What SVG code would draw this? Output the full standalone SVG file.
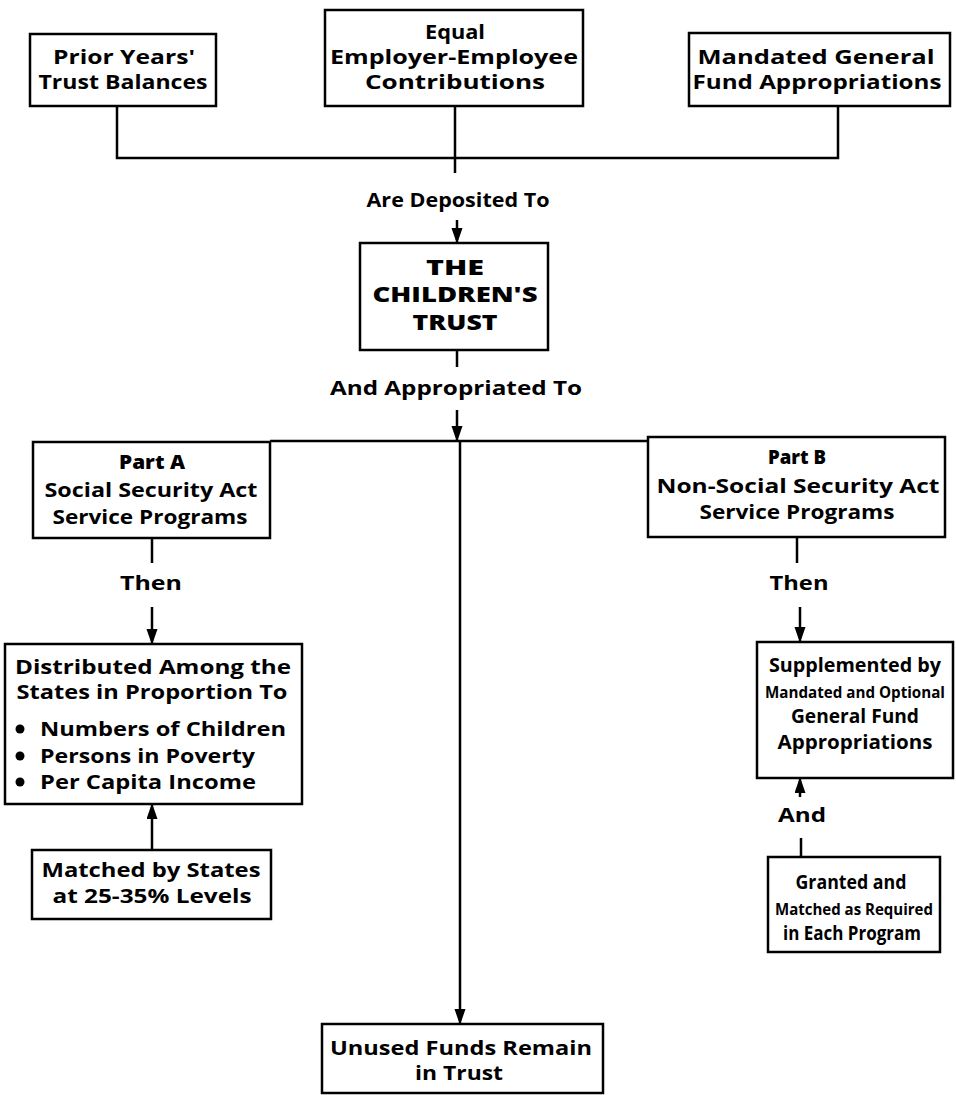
<svg xmlns="http://www.w3.org/2000/svg" width="956" height="1095" viewBox="0 0 956 1095">
<defs>
<marker id="ah" markerUnits="userSpaceOnUse" markerWidth="12" markerHeight="18" refX="15" refY="5.5" orient="auto">
<path d="M0,0 L16,5.5 L0,11 Z" fill="#000"/>
</marker>
<style>
rect{fill:#fff;stroke:#000;stroke-width:2.5}
.c line,.c path{stroke:#000;stroke-width:2.5;fill:none}
text{font-family:"Open Sans","Liberation Sans",sans-serif;font-weight:700;font-size:20px;fill:#000;text-anchor:middle}
.big{font-size:21px;font-weight:800}
.t{font-size:20px;font-weight:800}
.n{font-size:16.5px}
.m{font-size:15.5px}
.l{text-anchor:start}
</style>
</defs>
<rect x="0" y="0" width="956" height="1095" style="fill:#fff;stroke:none"/>
<g class="c" id="connectors">
<path d="M117,106 V158 H838 V106"/>
<line x1="455" y1="106" x2="455" y2="173"/>
<line x1="457" y1="220" x2="457" y2="243" marker-end="url(#ah)"/>
<line x1="457" y1="350" x2="457" y2="367"/>
<line x1="457" y1="410" x2="457" y2="441" marker-end="url(#ah)"/>
<line x1="270" y1="441" x2="648" y2="441"/>
<line x1="460" y1="441" x2="460" y2="1024" marker-end="url(#ah)"/>
<line x1="152" y1="538" x2="152" y2="563"/>
<line x1="152" y1="607" x2="152" y2="644" marker-end="url(#ah)"/>
<line x1="152" y1="850" x2="152" y2="804" marker-end="url(#ah)"/>
<line x1="797" y1="537" x2="797" y2="563"/>
<line x1="800" y1="607" x2="800" y2="642" marker-end="url(#ah)"/>
<line x1="801" y1="857" x2="801" y2="838"/>
<line x1="800" y1="797" x2="800" y2="778" marker-end="url(#ah)"/>
</g>
<g id="prior"><rect x="30" y="34" width="186" height="72"/>
<text x="124" y="64" textLength="142" lengthAdjust="spacingAndGlyphs">Prior Years'</text>
<text x="123" y="89" textLength="169" lengthAdjust="spacingAndGlyphs">Trust Balances</text></g>
<g id="equal"><rect x="325" y="10" width="258" height="96"/>
<text x="455" y="39" textLength="60" lengthAdjust="spacingAndGlyphs">Equal</text>
<text x="454" y="64" textLength="248" lengthAdjust="spacingAndGlyphs">Employer-Employee</text>
<text x="455" y="89" textLength="180" lengthAdjust="spacingAndGlyphs">Contributions</text></g>
<g id="mandated"><rect x="689" y="33" width="261" height="73"/>
<text x="816" y="64" textLength="237" lengthAdjust="spacingAndGlyphs">Mandated General</text>
<text x="817" y="89" textLength="249" lengthAdjust="spacingAndGlyphs">Fund Appropriations</text></g>
<g id="lbl-deposited"><text x="458" y="207" textLength="183" lengthAdjust="spacingAndGlyphs">Are Deposited To</text></g>
<g id="trust"><rect x="360" y="243" width="188" height="107"/>
<text class="big" x="455" y="275" textLength="58" lengthAdjust="spacingAndGlyphs">THE</text>
<text class="big" x="455" y="302" textLength="165" lengthAdjust="spacingAndGlyphs">CHILDREN'S</text>
<text class="big" x="455" y="330" textLength="85" lengthAdjust="spacingAndGlyphs">TRUST</text></g>
<g id="lbl-appropriated"><text x="456" y="395" textLength="252" lengthAdjust="spacingAndGlyphs">And Appropriated To</text></g>
<g id="partA"><rect x="33" y="442" width="237" height="96"/>
<text class="t" x="152" y="469" textLength="66" lengthAdjust="spacingAndGlyphs">Part A</text>
<text x="151" y="497" textLength="213" lengthAdjust="spacingAndGlyphs">Social Security Act</text>
<text x="150" y="524" textLength="195" lengthAdjust="spacingAndGlyphs">Service Programs</text></g>
<g id="lbl-thenA"><text x="151" y="590" textLength="62" lengthAdjust="spacingAndGlyphs">Then</text></g>
<g id="distributed"><rect x="5" y="644" width="297" height="160"/>
<text x="153" y="674" textLength="276" lengthAdjust="spacingAndGlyphs">Distributed Among the</text>
<text x="152" y="699" textLength="271" lengthAdjust="spacingAndGlyphs">States in Proportion To</text>
<circle cx="20" cy="729" r="4.5"/><circle cx="20" cy="756" r="4.5"/><circle cx="20" cy="782" r="4.5"/>
<text class="l" x="40" y="736" textLength="246" lengthAdjust="spacingAndGlyphs">Numbers of Children</text>
<text class="l" x="40" y="763" textLength="215" lengthAdjust="spacingAndGlyphs">Persons in Poverty</text>
<text class="l" x="40" y="789" textLength="216" lengthAdjust="spacingAndGlyphs">Per Capita Income</text></g>
<g id="matched"><rect x="32" y="850" width="239" height="69"/>
<text x="151" y="877" textLength="219" lengthAdjust="spacingAndGlyphs">Matched by States</text>
<text x="152" y="903" textLength="199" lengthAdjust="spacingAndGlyphs">at 25-35% Levels</text></g>
<g id="partB"><rect x="648" y="437" width="297" height="100"/>
<text class="t" x="797" y="464" textLength="58" lengthAdjust="spacingAndGlyphs">Part B</text>
<text x="798" y="493" textLength="283" lengthAdjust="spacingAndGlyphs">Non-Social Security Act</text>
<text x="797" y="519" textLength="195" lengthAdjust="spacingAndGlyphs">Service Programs</text></g>
<g id="lbl-thenB"><text x="799" y="590" textLength="59" lengthAdjust="spacingAndGlyphs">Then</text></g>
<g id="supplemented"><rect x="757" y="642" width="196" height="136"/>
<text x="855" y="672" textLength="172" lengthAdjust="spacingAndGlyphs">Supplemented by</text>
<text class="m" x="855" y="698" textLength="180" lengthAdjust="spacingAndGlyphs">Mandated and Optional</text>
<text x="855" y="723" textLength="128" lengthAdjust="spacingAndGlyphs">General Fund</text>
<text x="855" y="749" textLength="155" lengthAdjust="spacingAndGlyphs">Appropriations</text></g>
<g id="lbl-and"><text x="802" y="822" textLength="48" lengthAdjust="spacingAndGlyphs">And</text></g>
<g id="granted"><rect x="768" y="857" width="172" height="95"/>
<text x="851" y="889" textLength="111" lengthAdjust="spacingAndGlyphs">Granted and</text>
<text class="n" x="854" y="915" textLength="158" lengthAdjust="spacingAndGlyphs">Matched as Required</text>
<text x="852" y="940" textLength="138" lengthAdjust="spacingAndGlyphs">in Each Program</text></g>
<g id="unused"><rect x="322" y="1024" width="281" height="69"/>
<text x="461" y="1055" textLength="262" lengthAdjust="spacingAndGlyphs">Unused Funds Remain</text>
<text x="459" y="1080" textLength="88" lengthAdjust="spacingAndGlyphs">in Trust</text></g>
</svg>
